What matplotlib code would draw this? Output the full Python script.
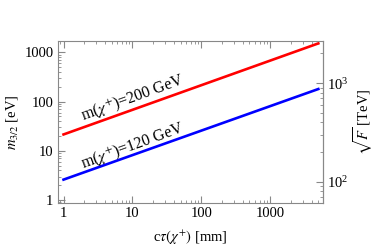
import numpy as np
import matplotlib
matplotlib.use("Agg")
import matplotlib.pyplot as plt
from matplotlib.ticker import LogLocator, NullFormatter, FixedLocator

plt.rcParams["font.family"] = ["Liberation Serif", "DejaVu Serif"]
plt.rcParams["mathtext.fontset"] = "stix"

# --- data: line endpoints
ctau = [1, 5000]                 # mm
m32_200 = [21.5, 1520]           # eV, m(chi+) = 200 GeV
m32_120 = [2.6, 180]             # eV, m(chi+) = 120 GeV
x_ticks = [1, 10, 100, 1000]
x_ticklabels = ["1", "10", "100", "1000"]
y_ticks = [1, 10, 100, 1000]
y_ticklabels = ["1", "10", "100", "1000"]

M_P = 2.435e27  # reduced Planck mass in eV


def m_to_sqrtF(m):
    return np.sqrt(np.sqrt(3) * np.abs(m) * M_P) / 1e12


def sqrtF_to_m(f):
    return (np.abs(f) * 1e12) ** 2 / (np.sqrt(3) * M_P)


grey = "#888888"
fig = plt.figure(figsize=(3.74, 2.47), dpi=100)
ax = fig.add_axes([0.154, 0.178, 0.709, 0.657])

ax.plot(ctau, m32_200, color="#ff0000", lw=1.9)
ax.plot(ctau, m32_120, color="#0000ff", lw=1.9)

ax.set_xscale("log")
ax.set_yscale("log")
ax.set_xlim(0.82, 5800)
ax.set_ylim(0.87, 1720)

ax.set_xticks(x_ticks)
ax.set_xticklabels(x_ticklabels)
ax.set_yticks(y_ticks)
ax.set_yticklabels(y_ticklabels)
ax.xaxis.set_minor_locator(LogLocator(base=10, subs=np.arange(2, 10)))
ax.yaxis.set_minor_locator(LogLocator(base=10, subs=np.arange(2, 10)))
ax.xaxis.set_minor_formatter(NullFormatter())
ax.yaxis.set_minor_formatter(NullFormatter())

ax.tick_params(which="both", direction="in", top=True, right=False,
               color=grey, labelsize=10.5, pad=3)
ax.tick_params(which="major", length=5, width=0.8)
ax.tick_params(which="minor", length=2.5, width=0.6)
for s in ax.spines.values():
    s.set_color(grey)
    s.set_linewidth(0.8)

ax.set_xlabel(r"c$\tau(\chi^{+})$ [mm]", fontsize=10.5, labelpad=6)
ax.set_ylabel(r"$m_{3/2}$ [eV]", fontsize=10.5, labelpad=3)

ax.text(10.2, 118, r"m($\chi^{+}$)=200 GeV", fontsize=11.5, rotation=20,
        ha="center", va="center", rotation_mode="anchor")
ax.text(10.2, 12.6, r"m($\chi^{+}$)=120 GeV", fontsize=11.5, rotation=20,
        ha="center", va="center", rotation_mode="anchor")

# --- right axis: sqrt(F)
sec = ax.secondary_yaxis("right", functions=(m_to_sqrtF, sqrtF_to_m))
sec.set_yscale("log")
sec.yaxis.set_major_locator(FixedLocator([100, 1000]))
sec.yaxis.set_minor_locator(LogLocator(base=10, subs=np.arange(2, 10)))
sec.yaxis.set_minor_formatter(NullFormatter())
sec.tick_params(which="both", direction="in", color=grey, labelsize=10.5, pad=3)
sec.tick_params(which="major", length=5, width=0.8)
sec.tick_params(which="minor", length=2.5, width=0.6)
sec.spines["right"].set_color(grey)
sec.set_ylabel(r"$\sqrt{F}$ [TeV]", fontsize=10.5, labelpad=2)

fig.savefig("out.png", dpi=100)
